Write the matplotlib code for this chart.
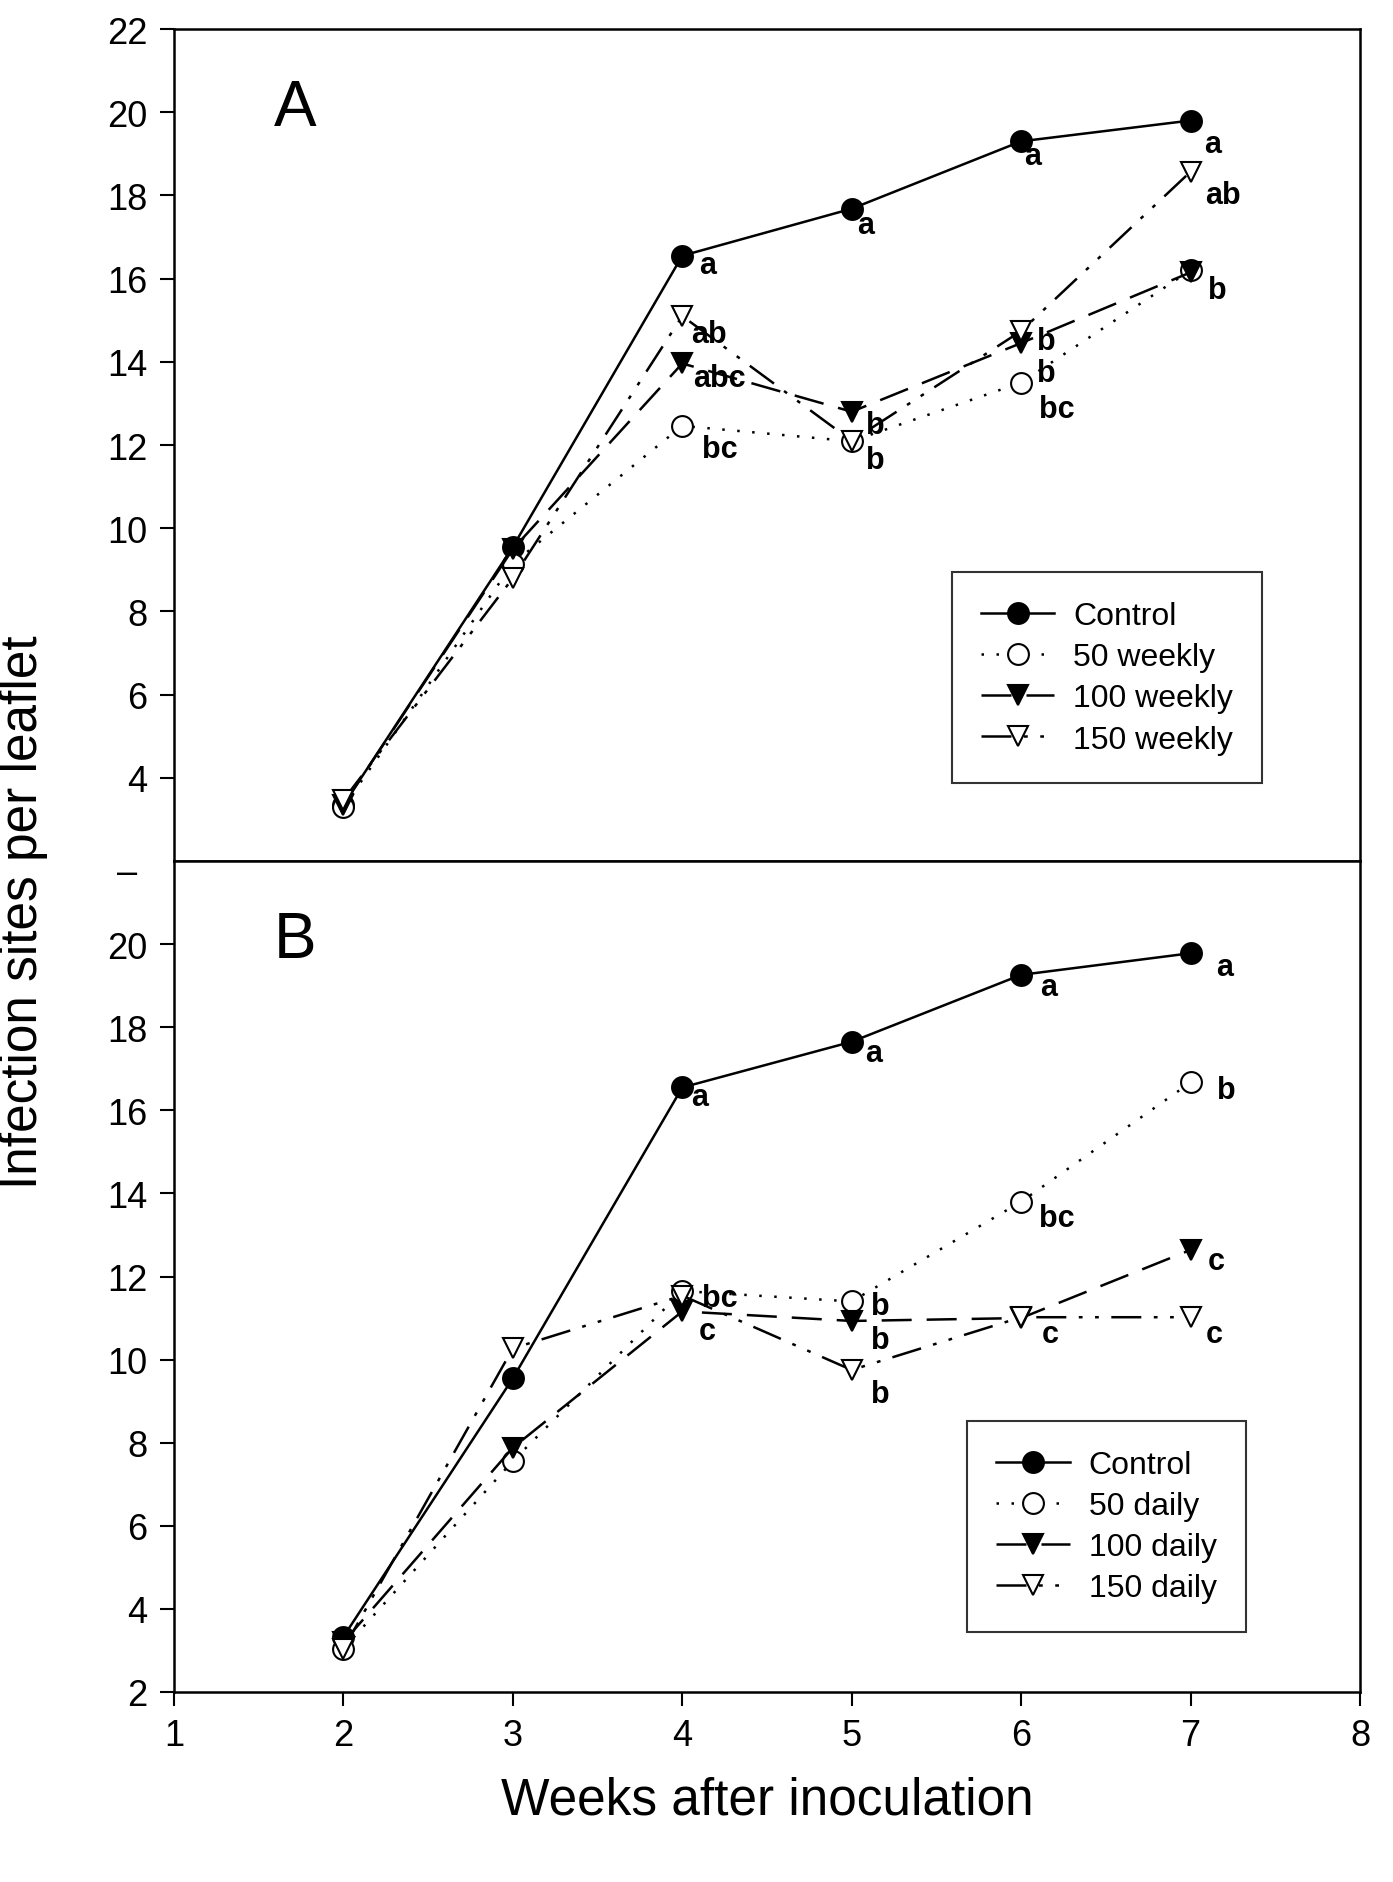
import matplotlib.pyplot as plt

plt.rcParams['font.family'] = ['Liberation Sans', 'DejaVu Sans']

# data
weeks = [2, 3, 4, 5, 6, 7]

# panel A (weekly)
control_a = [3.35, 9.55, 16.55, 17.68, 19.3, 19.8]
w50_a = [3.3, 9.15, 12.46, 12.09, 13.5, 16.2]
w100_a = [3.35, 9.5, 13.96, 12.8, 14.45, 16.15]
w150_a = [3.47, 8.8, 15.1, 12.1, 14.74, 18.57]

# panel B (daily)
control_b = [3.33, 9.55, 16.55, 17.65, 19.26, 19.78]
d50_b = [3.04, 7.56, 11.65, 11.4, 13.8, 16.67]
d100_b = [3.2, 7.88, 11.16, 10.93, 11.0, 12.64]
d150_b = [3.04, 10.27, 11.54, 9.75, 11.02, 11.02]

labels_a = ['Control', '50 weekly', '100 weekly', '150 weekly']
labels_b = ['Control', '50 daily', '100 daily', '150 daily']

# significance letters: (x, y, text)
letters_a = [(4.15, 16.32, 'a'), (4.16, 14.68, 'ab'), (4.22, 13.61, 'abc'),
             (4.22, 11.91, 'bc'), (5.08, 17.3, 'a'), (5.14, 12.49, 'b'),
             (5.14, 11.63, 'b'), (6.07, 18.95, 'a'), (6.15, 14.5, 'b'),
             (6.15, 13.73, 'b'), (6.21, 12.86, 'bc'), (7.13, 19.23, 'a'),
             (7.19, 18.02, 'ab'), (7.16, 15.72, 'b')]
letters_b = [(4.10, 16.32, 'a'), (4.22, 11.48, 'bc'), (4.15, 10.70, 'c'),
             (5.13, 17.39, 'a'), (5.17, 11.28, 'b'), (5.17, 10.47, 'b'),
             (5.17, 9.18, 'b'), (6.16, 18.97, 'a'), (6.21, 13.41, 'bc'),
             (6.17, 10.62, 'c'), (7.20, 19.46, 'a'), (7.21, 16.5, 'b'),
             (7.15, 12.37, 'c'), (7.14, 10.62, 'c')]

# styles per series: control, 50, 100, 150
styles = [
    dict(ls='-', marker='o', mfc='black'),
    dict(ls=(0, (1, 5)), marker='o', mfc='white'),
    dict(ls=(0, (12, 6)), marker='v', mfc='black'),
    dict(ls=(0, (12, 5, 1.5, 5, 1.5, 5)), marker='v', mfc='white'),
]

W, H = 1393, 1883
fig = plt.figure(figsize=(W / 100, H / 100), dpi=100)

left, right = 174 / W, 1360 / W
top_y, split_y, bot_y = 30 / H, 862 / H, 1693 / H
ax_a = fig.add_axes([left, 1 - split_y, right - left, split_y - top_y])
ax_b = fig.add_axes([left, 1 - bot_y, right - left, bot_y - split_y])


def draw_panel(ax, series, labels, letters, panel, legend_box):
    for vals, lab, st in zip(series, labels, styles):
        ax.plot(weeks, vals, color='black', lw=1.8, ls=st['ls'],
                marker=st['marker'], ms=15, mfc=st['mfc'], mec='black',
                mew=1.5, label=lab)
    for x, y, t in letters:
        ax.text(x, y, t, fontsize=22, fontweight='bold', ha='center',
                va='center')
    ax.text(1.59, 20.1, panel, fontsize=46, va='center', ha='left')
    ax.set_xlim(1, 8)
    ax.set_ylim(2, 22)
    ax.set_xticks(range(1, 9))
    ax.tick_params(direction='out', length=10, width=1.5, labelsize=26,
                   pad=9)
    for sp in ax.spines.values():
        sp.set_linewidth(1.8)
    leg = ax.legend(loc='upper left', bbox_to_anchor=legend_box,
                    fontsize=23, frameon=True, fancybox=False,
                    edgecolor='black', handlelength=2.3, numpoints=1,
                    borderpad=0.9, labelspacing=0.35, handletextpad=0.6,
                    borderaxespad=0)
    leg.get_frame().set_linewidth(1.5)


draw_panel(ax_a, [control_a, w50_a, w100_a, w150_a], labels_a, letters_a,
           'A', (0.656, 0.347))
draw_panel(ax_b, [control_b, d50_b, d100_b, d150_b], labels_b, letters_b,
           'B', (0.669, 0.326))

ax_a.set_yticks(range(4, 23, 2))
ax_a.tick_params(axis='x', labelbottom=False, length=0)
ax_b.set_yticks(range(2, 21, 2))

fig.text(137 / W, 1 - 874 / H, '\u2013', ha='right', va='center',
         fontsize=26)
fig.text(767 / W, 1 - 1801 / H, 'Weeks after inoculation', ha='center',
         va='center', fontsize=37)
fig.text(24 / W, 1 - 912 / H, 'Infection sites per leaflet', ha='center',
         va='center', rotation=90, fontsize=37)

fig.savefig('out.png', dpi=100)
